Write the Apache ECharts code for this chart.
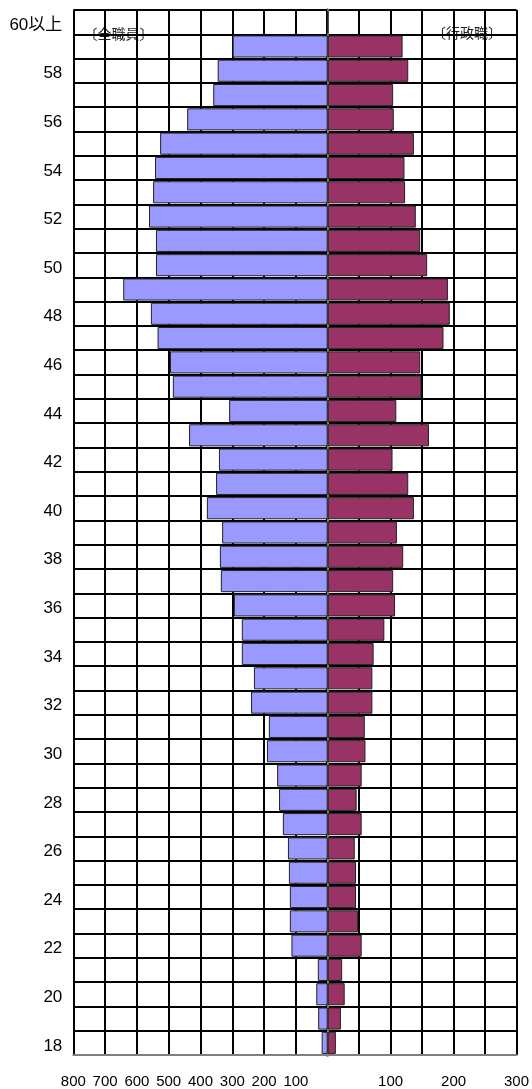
<!DOCTYPE html>
<html>
<head>
<meta charset="utf-8">
<script src="https://cdn.jsdelivr.net/npm/echarts@6/dist/echarts.min.js"></script>
<style>
  html, body { margin: 0; padding: 0; background: #fff; }
  #chart { width: 532px; height: 1089px; }
</style>
</head>
<body>
<div id="chart"></div>
<script>
// Age bands, youngest at the bottom
const ages = ['18','19','20','21','22','23','24','25','26','27','28','29','30','31','32','33','34','35','36','37','38','39',
  '40','41','42','43','44','45','46','47','48','49','50','51','52','53','54','55','56','57','58','59','60以上'];

// 全職員 (left side), persons per age
const allStaff = [19, 30, 36, 31, 114, 119, 119, 122, 125, 141, 153, 159, 191, 185, 241, 232, 270, 270, 295, 336, 339, 332,
  380, 351, 342, 436, 310, 487, 496, 535, 556, 643, 540, 540, 562, 549, 543, 527, 442, 360, 346, 299, 0];

// 行政職 (right side), persons per age
const adminStaff = [13, 21, 27, 23, 54, 48, 45, 45, 43, 54, 46, 54, 60, 59, 71, 71, 73, 90, 107, 104, 120, 110,
  137, 128, 103, 161, 109, 149, 147, 184, 194, 191, 158, 147, 140, 123, 122, 137, 105, 104, 128, 119, 0];

// Tick labels shown under each half
const leftTickLabels = [800, 700, 600, 500, 400, 300, 200, 100];
const rightTickLabels = [100, 200, 300];

const seriesNames = ['全職員', '行政職'];

const chart = echarts.init(document.getElementById('chart'), null, { renderer: 'canvas' });

const FONT = '"Liberation Sans", Arial, "Noto Sans CJK JP", sans-serif';
const GRID_TOP = 10, GRID_H = 1045.5;
const LEFT_X = 73.3, CENTER_X = 327.7, RIGHT_X = 518.7;

const gridLine = { show: true, lineStyle: { color: '#000', width: 2 } };
const rowLine = { show: true, interval: 0, lineStyle: { color: '#000', width: 2 } };

function tagBox(x, y, w, h, text) {
  return {
    type: 'group', left: x, top: y, z: 100,
    children: [
      { type: 'rect', shape: { x: 0, y: 0, width: w, height: h }, style: { fill: '#fff' } },
      { type: 'text', x: w / 2, y: h / 2,
        style: { text: text, fontSize: 14, fontFamily: 'Noto Sans CJK JP', fill: '#222',
                 align: 'center', verticalAlign: 'middle' } }
    ]
  };
}

chart.setOption({
  animation: false,
  backgroundColor: '#fff',
  grid: [
    { left: LEFT_X, top: GRID_TOP, width: CENTER_X - LEFT_X, height: GRID_H },
    { left: CENTER_X, top: GRID_TOP, width: RIGHT_X - CENTER_X, height: GRID_H }
  ],
  xAxis: [
    {
      gridIndex: 0, type: 'value', inverse: true, min: 0, max: 800, interval: 100,
      axisLine: { show: true, lineStyle: { color: '#808080', width: 2 } },
      axisTick: { show: false },
      splitLine: gridLine,
      axisLabel: {
        margin: 19, color: '#000', fontSize: 15, fontFamily: FONT,
        formatter: v => leftTickLabels.indexOf(v) >= 0 ? String(v) : ''
      }
    },
    {
      gridIndex: 1, type: 'value', min: 0, max: 300, interval: 50,
      axisLine: { show: true, lineStyle: { color: '#808080', width: 2 } },
      axisTick: { show: false },
      splitLine: gridLine,
      axisLabel: {
        margin: 19, color: '#000', fontSize: 15, fontFamily: FONT,
        formatter: v => rightTickLabels.indexOf(v) >= 0 ? String(v) : ''
      }
    }
  ],
  yAxis: [
    {
      gridIndex: 0, type: 'category', data: ages, position: 'left',
      axisLine: { show: true, lineStyle: { color: '#808080', width: 2 } },
      axisTick: { show: false },
      splitLine: rowLine,
      axisLabel: {
        interval: 1, margin: 11, color: '#000', fontSize: 17, fontFamily: FONT,
        verticalAlign: 'top', lineHeight: 6
      }
    },
    {
      // center divider between the two halves
      gridIndex: 0, type: 'category', data: ages, position: 'right',
      axisLine: { show: true, lineStyle: { color: '#000', width: 3 } },
      axisTick: { show: false }, axisLabel: { show: false }, splitLine: { show: false }
    },
    {
      gridIndex: 1, type: 'category', data: ages, position: 'right',
      axisLine: { show: true, lineStyle: { color: '#808080', width: 2 } },
      axisTick: { show: false }, axisLabel: { show: false },
      splitLine: rowLine
    }
  ],
  series: [
    {
      name: seriesNames[0], type: 'bar', xAxisIndex: 0, yAxisIndex: 0,
      data: allStaff, barCategoryGap: '9%',
      itemStyle: { color: '#9999FF', borderColor: '#222', borderWidth: 1 }
    },
    {
      name: seriesNames[1], type: 'bar', xAxisIndex: 1, yAxisIndex: 2,
      data: adminStaff, barCategoryGap: '9%',
      itemStyle: { color: '#993366', borderColor: '#222', borderWidth: 1 }
    }
  ],
  graphic: [
    tagBox(82, 20, 73, 27, '〔' + seriesNames[0] + '〕'),
    tagBox(432, 18, 68, 29, '〔' + seriesNames[1] + '〕')
  ]
});
</script>
</body>
</html>
